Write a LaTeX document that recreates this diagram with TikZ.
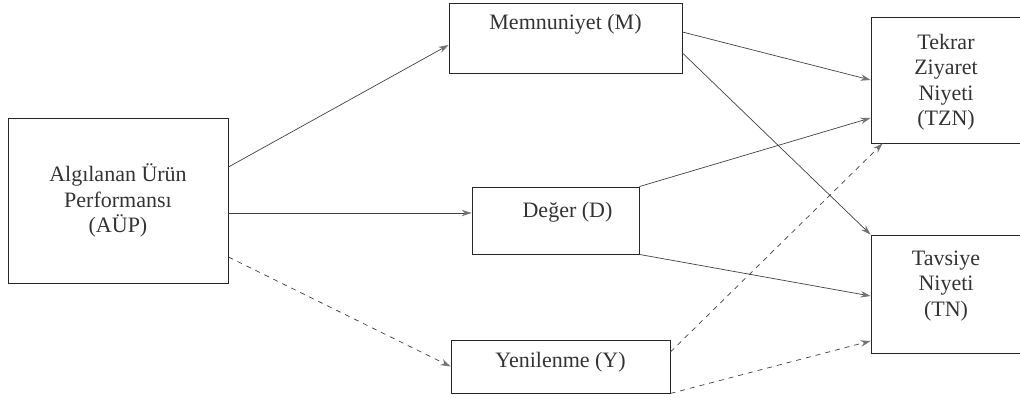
\documentclass[tikz,border=0pt]{standalone}
\usepackage{fontspec}
\setmainfont{Liberation Serif}
\usetikzlibrary{arrows.meta,positioning}
\begin{document}
\begin{tikzpicture}[x=1pt, y=-1pt, >={Stealth[length=10pt,width=6.5pt,color=black!55]}]
\tikzstyle{bx}=[draw=black!85,line width=0.9pt,inner sep=0pt]
\tikzstyle{txt}=[inner sep=0pt,align=center,font=\fontsize{22}{25.5}\selectfont,text=black!80]
\tikzstyle{ar}=[->,draw=black!75,line width=0.7pt]
\tikzstyle{dar}=[ar,dash pattern=on 5pt off 5pt]
\useasboundingbox (0,0) rectangle (1020,398);
% boxes
\node[bx,minimum width=220pt,minimum height=165pt] (aup) at (118,200.5) {};
\node[bx,minimum width=233pt,minimum height=70pt]  (mem) at (565.5,38)  {};
\node[bx,minimum width=167pt,minimum height=67pt]  (deg) at (555.5,220.5) {};
\node[bx,minimum width=219pt,minimum height=53pt]  (yen) at (560.5,366.5) {};
\node[bx,minimum width=154pt,minimum height=126pt] (tzn) at (948,80)  {};
\node[bx,minimum width=154pt,minimum height=118pt] (tn)  at (948,294) {};
% texts
\node[txt] (aupt) at (aup.center) {Algılanan Ürün\\Performansı\\(AÜP)};
\node[txt,below=11pt of mem.north] (memt) {Memnuniyet (M)};
\node[txt,below=15pt of deg.north,xshift=12pt] (degt) {Değer (D)};
\node[txt,below=12pt of yen.north] (yent) {Yenilenme (Y)};
\node[txt,below=17pt of tzn.north,xshift=-2pt] (tznt) {Tekrar\\Ziyaret\\Niyeti\\(TZN)};
\node[txt,below=16pt of tn.north,xshift=-2pt] (tnt) {Tavsiye\\Niyeti\\(TN)};
% paths
\draw[ar]  ([yshift=33.5pt]aup.east) -- ([yshift=-7pt]mem.west);
\draw[ar]  ([yshift=-12.5pt]aup.east) -- ([yshift=7.5pt]deg.west);
\draw[dar] ([yshift=-56.5pt]aup.east) -- (yen.west);
\draw[ar]  ([yshift=6pt]mem.east) -- (tzn.west);
\draw[ar]  ([yshift=-15pt]mem.east) -- (tn.north west);
\draw[ar]  (deg.north east) -- ([yshift=-38pt]tzn.west);
\draw[ar]  (deg.south east) -- ([yshift=-2pt]tn.west);
\draw[dar] ([yshift=14.5pt]yen.east) -- ([xshift=12pt]tzn.south west);
\draw[dar] (yen.south east) -- ([yshift=-47pt]tn.west);
\end{tikzpicture}
\end{document}
